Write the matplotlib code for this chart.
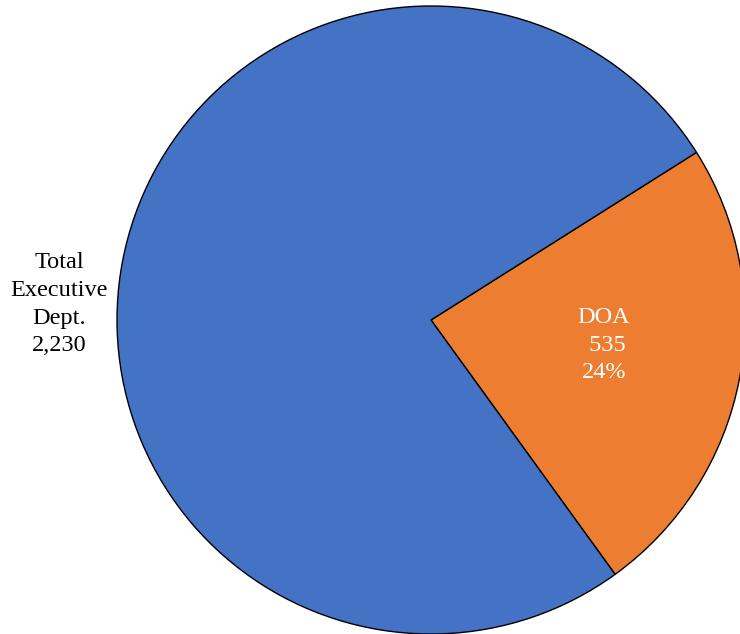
import matplotlib
matplotlib.use("Agg")
import matplotlib.pyplot as plt

# Data
labels = ["DOA", "Total Executive Dept."]
total_exec = 2230
doa = 535
values = [doa, total_exec - doa]
colors = ["#ED7D31", "#4472C4"]

plt.rcParams['font.family'] = ['Liberation Serif', 'DejaVu Serif']

W, H = 740, 634
fig = plt.figure(figsize=(W / 100, H / 100), dpi=100)
cx, cy, r = 431, 320, 314
ax = fig.add_axes([(cx - r) / W, (H - cy - r) / H, 2 * r / W, 2 * r / H])
ax.pie(values, colors=colors, startangle=-54.1, counterclock=True, radius=1,
       wedgeprops=dict(edgecolor="black", linewidth=1.0))
ax.set_xlim(-1, 1)
ax.set_ylim(-1, 1)
ax.set_aspect('equal')
ax.axis('off')

pct = round(100 * doa / total_exec)
ax.text(0.551, -0.08, f"{labels[0]}\n {doa}\n{pct}%", ha='center', va='center',
        color='white', fontsize=17.5, linespacing=1.42)
ax.text(-1.185, 0.05, "Total\nExecutive\nDept.\n" + f"{total_exec:,}", ha='center',
        va='center', color='black', fontsize=17.5, linespacing=1.42)

fig.savefig("out.png", dpi=100)
